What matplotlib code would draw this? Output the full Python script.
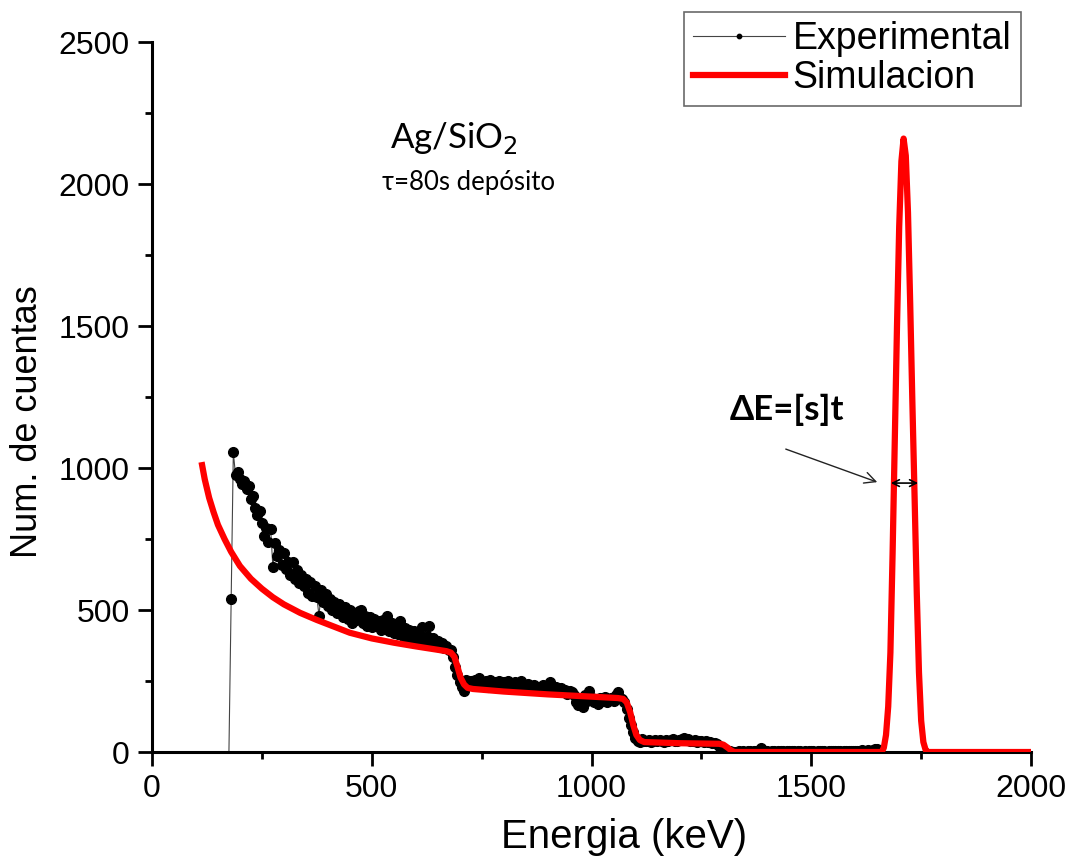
import numpy as np
import matplotlib
matplotlib.use("Agg")
import matplotlib.pyplot as plt
from matplotlib.ticker import MultipleLocator

# Experimental spectrum, 5 keV channels starting at 110 keV
exp_start = 110
exp_step = 5
exp_counts = [
    0, 0, 0, 0, 0, 0, 0, 0, 0, 0, 0, 0, 0, 0,                  # 110-175
    540, 1055, 975, 985, 960, 945, 955, 925, 935, 890,         # 180-225
    900, 860, 835, 850, 805, 760, 790, 740, 785, 650,          # 230-275
    735, 690, 710, 660, 700, 645, 670, 625, 670, 610,          # 280-325
    640, 595, 625, 585, 610, 560, 600, 550, 585, 545,          # 330-375
    480, 570, 530, 555, 515, 540, 500, 530, 490, 520,          # 380-425
    495, 475, 510, 470, 500, 455, 490, 465, 495, 500,          # 430-475
    455, 480, 445, 475, 440, 470, 445, 460, 430, 465,          # 480-525
    440, 480, 425, 455, 420, 445, 415, 460, 410, 435,          # 530-575
    405, 430, 400, 425, 395, 420, 390, 440, 385, 410,          # 580-625
    445, 385, 400, 375, 390, 370, 385, 365, 375, 360,          # 630-675
    360, 335, 300, 270, 245, 230, 215, 255, 240, 250,          # 680-725
    245, 255, 240, 260, 235, 245, 250, 230, 255, 240,          # 730-775
    245, 235, 250, 240, 245, 235, 250, 230, 240, 245,          # 780-825
    230, 240, 250, 225, 235, 240, 230, 225, 235, 225,          # 830-875
    230, 220, 235, 225, 230, 245, 225, 220, 230, 215,          # 880-925
    225, 210, 220, 205, 215, 210, 200, 175, 165, 185,          # 930-975
    160, 200, 180, 215, 190, 175, 185, 170, 190, 180,          # 980-1025
    195, 175, 185, 190, 180, 200, 210, 190, 185, 175,          # 1030-1075
    150, 120, 95, 70, 50, 40, 35, 45, 40, 38,                  # 1080-1125
    42, 36, 40, 44, 38, 42, 40, 37, 43, 39,                    # 1130-1175
    41, 45, 40, 38, 42, 47, 50, 43, 45, 40,                    # 1180-1225
    38, 42, 36, 40, 38, 35, 39, 34, 37, 33,                    # 1230-1275
    30, 28, 22, 15, 10, 6, 4, 2, 1, 0,                         # 1280-1325
    0, 2, 1, 3, 0, 2, 4, 1, 3, 2, 5,                           # 1330-1380
    14, 4, 2, 3,                                               # 1385-1400
    1, 4, 2, 0, 3, 2, 5, 1, 2, 3,                              # 1405-1450
    2, 4, 1, 3, 2, 0, 3, 1, 4, 2,                              # 1455-1500
    3, 1, 2, 5, 2, 3, 1, 4, 2, 3,                              # 1505-1550
    2, 4, 3, 1, 5, 3, 2, 4, 3, 5,                              # 1555-1600
    4, 3, 6, 4, 5, 7, 5, 8, 10, 12,                            # 1605-1650
    15, 20, 25, 60, 160, 350, 700, 1100, 1500, 1850,           # 1655-1700
    2080, 2160, 2100, 1900, 1580, 1230, 900, 560, 280, 110,    # 1705-1750
    35, 8, 0, 0, 0, 0, 0, 0, 0, 0,                             # 1755-1800
]

# Simulated curve
sim_energy = [114, 120, 130, 140, 150, 165, 180, 200, 225, 250,
              275, 300, 337, 375, 400, 450, 500, 550, 600, 650,
              670, 680, 688, 695, 702, 710, 718, 730, 800, 900,
              1000, 1060, 1072, 1080, 1088, 1095, 1102, 1110, 1120, 1200,
              1290, 1300, 1310, 1318, 1325, 1650, 1660, 1665, 1670, 1675,
              1680, 1685, 1690, 1695, 1700, 1705, 1710, 1715, 1720, 1725,
              1730, 1735, 1740, 1745, 1750, 1755, 1760, 1765, 2000]
sim_counts = [1010, 960, 895, 845, 800, 750, 705, 655, 610, 575,
              545, 520, 490, 465, 450, 420, 400, 385, 372, 360,
              355, 350, 335, 300, 262, 238, 226, 222, 213, 203,
              195, 190, 187, 175, 140, 95, 60, 42, 35, 31,
              29, 26, 15, 5, 0, 0, 0, 15, 60, 160,
              350, 700, 1100, 1500, 1850, 2080, 2160, 2100, 1900, 1580,
              1230, 900, 560, 280, 110, 35, 8, 0, 0]

exp_energy = exp_start + exp_step * np.arange(len(exp_counts))

plt.rcParams['font.family'] = ['Liberation Sans', 'DejaVu Sans']

fig = plt.figure(figsize=(10.69, 8.63), dpi=100)
ax = fig.add_axes([0.1422, 0.1286, 0.8223, 0.8227])

ax.plot(exp_energy, exp_counts, color='#444444', lw=0.8, marker='o',
        markersize=7, markerfacecolor='black', markeredgecolor='black',
        markevery=slice(14, 309), label='Experimental', zorder=2)
ax.plot(sim_energy, sim_counts, color='#ff0000', lw=4.5,
        label='Simulacion', zorder=3)

ax.set_xlim(0, 2000)
ax.set_ylim(0, 2500)
ax.xaxis.set_major_locator(MultipleLocator(500))
ax.xaxis.set_minor_locator(MultipleLocator(250))
ax.yaxis.set_major_locator(MultipleLocator(500))
ax.yaxis.set_minor_locator(MultipleLocator(250))

for s in ['top', 'right']:
    ax.spines[s].set_visible(False)
for s in ['left', 'bottom']:
    ax.spines[s].set_linewidth(2.2)
ax.tick_params(which='major', direction='out', length=10, width=2,
               labelsize=23, pad=6)
ax.tick_params(which='minor', direction='out', length=5, width=2)

ax.set_xlabel('Energia (keV)', fontsize=29)
ax.set_ylabel('Num. de cuentas', fontsize=26)
ax.xaxis.set_label_coords(0.537, -0.093)
ax.yaxis.set_label_coords(-0.122, 0.465)

ax.text(687, 2127, 'Ag/SiO$_2$', fontsize=25, ha='center',
        family=['Lato', 'Noto Sans'], math_fontfamily='custom')
ax.text(719, 1979, 'τ=80s depósito', fontsize=18.5, ha='center',
        family=['Lato', 'Noto Sans'])
ax.text(1445, 1169, 'ΔE=[s]t', fontsize=25, ha='center', fontweight='bold',
        family=['Lato', 'Noto Sans'])

ax.annotate('', xy=(1656, 947), xytext=(1436, 1070),
            arrowprops=dict(arrowstyle='->', color='#222222', lw=1,
                            mutation_scale=20))
ax.annotate('', xy=(1681, 947), xytext=(1743, 947),
            arrowprops=dict(arrowstyle='<->', color='black', lw=1.2,
                            mutation_scale=12, shrinkA=0, shrinkB=0))

leg = fig.legend(loc='upper right', bbox_to_anchor=(0.955, 0.986),
                 fontsize=27, frameon=True, fancybox=False, markerscale=0.45,
                 handlelength=2.45, borderpad=0.25, labelspacing=0.08,
                 handletextpad=0.2, borderaxespad=0)
leg.get_frame().set_edgecolor('#444444')
leg.get_frame().set_linewidth(1.2)

fig.savefig('out.png', dpi=100)
